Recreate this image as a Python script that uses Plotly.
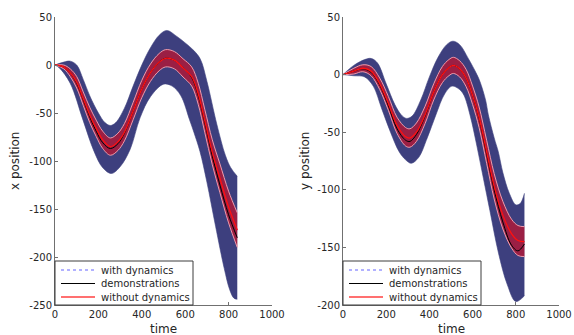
import plotly.graph_objects as go

# ---------------- data ----------------
# left panel: x position
tx_mean = [0, 40, 70, 100, 130, 160, 190, 220, 255, 290, 320, 360, 400, 440, 480, 510, 550, 590, 630, 660, 690, 725, 760, 800, 840]
x_mean = [0, -2, -8, -18, -35, -52, -66, -78, -85, -80, -70, -48, -25, -8, 3, 7, 5, -3, -12, -30, -58, -91, -118, -148, -172]
x_halfwidth = [0, 2, 4, 6, 7, 8, 8.5, 9, 9, 9, 9, 9, 9, 9, 9, 9, 9, 9.5, 10, 11, 12, 13, 15, 16.5, 18]
x_demo = [0, -2, -8, -19, -36, -54, -69, -81, -87, -82, -71, -48, -25, -8, 3, 7, 5, -3, -13, -32, -60, -95, -125, -156, -180]

tx_blue_up = [0, 40, 70, 100, 130, 160, 200, 230, 255, 280, 320, 360, 400, 440, 480, 515, 560, 600, 640, 670, 700, 746, 785, 810, 840]
x_blue_up = [0, 3, 4, 0, -15, -32, -50, -60, -63, -60, -45, -22, 0, 18, 31, 36, 30, 23, 15, 6, -17, -62, -94, -107, -116]
tx_blue_lo = [0, 20, 70, 130, 180, 220, 260, 300, 346, 392, 440, 500, 540, 580, 620, 640, 668, 700, 740, 780, 805, 825, 840]
x_blue_lo = [0, -3, -19, -58, -90, -107, -113, -106, -88, -55, -33, -20, -22, -32, -57, -70, -90, -122, -168, -212, -234, -243, -244]

# right panel: y position
ty_mean = [0, 50, 92, 130, 170, 210, 250, 290, 310, 340, 380, 420, 460, 490, 511, 540, 570, 600, 630, 665, 700, 740, 780, 810, 840]
y_mean = [0, 3, 5.5, 3, -8, -25, -44, -54, -55, -50, -35, -15, 0, 6, 8, 5, -3, -18, -37, -67, -97, -122, -138, -144, -145]
y_halfwidth = [0, 2.5, 3, 4, 5, 6, 7, 8, 8, 8, 7.5, 7, 7, 7, 7, 7, 7.5, 8, 9, 10, 11, 12, 12.5, 13, 13]
y_demo = [0, 3, 5, 2, -9, -27, -47, -57, -58, -52, -36, -15, 0, 6, 8, 5, -3, -18, -38, -69, -100, -128, -148, -153, -147]

ty_blue_up = [0, 50, 100, 131, 160, 200, 240, 270, 293, 320, 360, 400, 440, 480, 509, 540, 580, 620, 634, 660, 673, 700, 719, 740, 770, 800, 820, 840]
y_blue_up = [0, 8, 13, 14, 10, -8, -26, -35, -38, -36, -22, -2, 15, 26, 29, 26, 14, 0, -6, -22, -35, -55, -67, -85, -103, -113, -112, -103]
ty_blue_lo = [0, 50, 100, 140, 180, 220, 260, 290, 316, 350, 390, 430, 470, 505, 540, 560, 588, 620, 650, 680, 720, 760, 800, 840]
y_blue_lo = [0, -1, -2, -10, -30, -50, -67, -74, -77, -72, -55, -35, -17, -10, -13, -18, -35, -62, -90, -118, -155, -182, -197, -192]

x_ticks = [0, 200, 400, 600, 800, 1000]
x_ticktext = ["0", "200", "400", "600", "800", "1000"]
yl_ticks = [-250, -200, -150, -100, -50, 0, 50]
yl_ticktext = ["-250", "-200", "-150", "-100", "-50", "0", "50"]
yr_ticks = [-200, -150, -100, -50, 0, 50]
yr_ticktext = ["-200", "-150", "-100", "-50", "0", "50"]

legend_names = ["with dynamics", "demonstrations", "without dynamics"]

# ---------------- styles ----------------
BLUE = "#3d3f7e"
RED_FILL = "rgba(250,0,10,0.5)"
PINK = "rgba(245,160,175,0.95)"
RED = "#ff1010"
TXT = "#262626"
AX = "#707070"
FONT = "DejaVu Sans"

fig = go.Figure()


def add_panel(xa, ya, t_mean, mean, hw, demo, tbu, bu, tbl, bl):
    up = [m + h for m, h in zip(mean, hw)]
    lo = [m - h for m, h in zip(mean, hw)]
    kw = dict(xaxis=xa, yaxis=ya, showlegend=False, hoverinfo="skip")
    # with dynamics mean (hidden beneath band)
    fig.add_trace(go.Scatter(x=t_mean, y=mean, mode="lines", name=legend_names[0],
                             line=dict(color="#6464ff", width=1, dash="dot", shape="spline"), **kw))
    fig.add_trace(go.Scatter(x=tbl, y=bl, mode="lines",
                             line=dict(color=BLUE, width=0.6, shape="spline"), **kw))
    fig.add_trace(go.Scatter(x=tbu, y=bu, mode="lines", fill="tonexty", fillcolor=BLUE,
                             line=dict(color=BLUE, width=0.6, shape="spline"), **kw))
    fig.add_trace(go.Scatter(x=t_mean, y=lo, mode="lines",
                             line=dict(color=PINK, width=1, shape="spline"), **kw))
    fig.add_trace(go.Scatter(x=t_mean, y=up, mode="lines", fill="tonexty", fillcolor=RED_FILL,
                             line=dict(color=PINK, width=1, shape="spline"), **kw))
    fig.add_trace(go.Scatter(x=t_mean, y=demo, mode="lines", name=legend_names[1],
                             line=dict(color="black", width=1, shape="spline"), **kw))
    fig.add_trace(go.Scatter(x=t_mean, y=mean, mode="lines", name=legend_names[2],
                             line=dict(color=RED, width=1.3, shape="spline"), **kw))


add_panel("x", "y", tx_mean, x_mean, x_halfwidth, x_demo, tx_blue_up, x_blue_up, tx_blue_lo, x_blue_lo)
add_panel("x2", "y2", ty_mean, y_mean, y_halfwidth, y_demo, ty_blue_up, y_blue_up, ty_blue_lo, y_blue_lo)

W, H = 574, 335
axis_common = dict(showline=True, linecolor=AX, linewidth=1, ticks="inside", ticklen=3,
                   tickcolor=AX, showgrid=False, zeroline=False, mirror=False, automargin=False,
                   tickfont=dict(family=FONT, size=10, color=TXT))

fig.update_layout(
    width=W, height=H, margin=dict(l=0, r=0, t=0, b=0, autoexpand=False),
    paper_bgcolor="white", plot_bgcolor="white", showlegend=False,
    xaxis=dict(domain=[55 / W, 272 / W], range=[0, 1000], tickmode="array",
               tickvals=x_ticks, ticktext=x_ticktext, anchor="y", **axis_common),
    yaxis=dict(domain=[30 / H, 318 / H], range=[-250, 50], tickmode="array",
               tickvals=yl_ticks, ticktext=yl_ticktext, anchor="x", **axis_common),
    xaxis2=dict(domain=[343 / W, 559 / W], range=[0, 1000], tickmode="array",
                tickvals=x_ticks, ticktext=x_ticktext, anchor="y2", **axis_common),
    yaxis2=dict(domain=[30 / H, 318 / H], range=[-200, 50], tickmode="array",
                tickvals=yr_ticks, ticktext=yr_ticktext, anchor="x2", **axis_common),
)

annotations = []
shapes = []
# axis titles
for xc, ttl in [(15, "x position"), (305, "y position")]:
    annotations.append(dict(text=ttl, x=xc / W, y=(H - 161) / H, xref="paper", yref="paper",
                            textangle=-90, showarrow=False, xanchor="center", yanchor="middle",
                            font=dict(family=FONT, size=12, color=TXT)))
for xc in [163.5, 451]:
    annotations.append(dict(text="time", x=xc / W, y=(H - 329) / H, xref="paper", yref="paper",
                            showarrow=False, xanchor="center", yanchor="middle",
                            font=dict(family=FONT, size=12, color=TXT)))

# legends (one per panel, drawn inside the lower-left corner)
legend_styles = [dict(color="#6464ff", width=1, dash="dot"),
                 dict(color="black", width=1),
                 dict(color="#ff4040", width=1.5)]
for xa, ya, wpx in [("x", "y", 217), ("x2", "y2", 216)]:
    xr, yr = xa + " domain", ya + " domain"
    shapes.append(dict(type="rect", xref=xr, yref=yr, x0=0, x1=138 / wpx, y0=0, y1=44 / 288,
                       line=dict(color="#3c3c3c", width=1), fillcolor="white", layer="above"))
    for i, (name, st) in enumerate(zip(legend_names, legend_styles)):
        yy = (35 - 13.5 * i) / 288
        shapes.append(dict(type="line", xref=xr, yref=yr, x0=6 / wpx, x1=40 / wpx, y0=yy, y1=yy,
                           line=st, layer="above"))
        annotations.append(dict(text=name, xref=xr, yref=yr, x=44 / wpx, y=yy, showarrow=False,
                                xanchor="left", yanchor="middle",
                                font=dict(family=FONT, size=10, color=TXT)))

fig.update_layout(annotations=annotations, shapes=shapes)
fig.write_html("out.html", config={"displayModeBar": False},
               post_script="document.body.style.margin='0px';")
